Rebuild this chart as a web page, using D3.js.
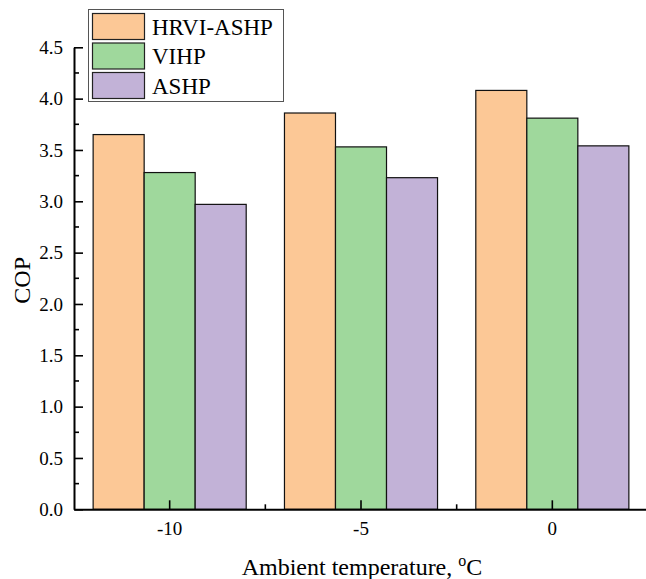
<!DOCTYPE html>
<html><head><meta charset="utf-8">
<script src="https://cdn.jsdelivr.net/npm/d3@7"></script>
<style>body{margin:0;background:#fff}svg{display:block}text{font-family:"Liberation Serif","Times New Roman",serif;fill:#000}</style>
</head><body>
<svg id="c" width="646" height="579"></svg>
<script>
const categories = ["-10", "-5", "0"];
const seriesNames = ["HRVI-ASHP", "VIHP", "ASHP"];
const hrviAshp = [3.65, 3.86, 4.08];
const vihp = [3.28, 3.53, 3.81];
const ashp = [2.97, 3.23, 3.54];
const yTicks = [0.0, 0.5, 1.0, 1.5, 2.0, 2.5, 3.0, 3.5, 4.0, 4.5];
const colors = ["#fcc896", "#9fd89c", "#c2b2d7"];

const series = [hrviAshp, vihp, ashp];
const svg = d3.select("#c");
const L = 74, R = 648, T = 47.3, B = 509.3;

const x = d3.scaleBand().domain(categories).range([L, R]).paddingInner(0).paddingOuter(0);
const xs = d3.scaleBand().domain(seriesNames).range([0, x.bandwidth()]).paddingInner(0).paddingOuter(0.375);
const y = d3.scaleLinear().domain([0, 4.5]).range([B, T]);

// bars
categories.forEach((c, i) => {
  seriesNames.forEach((s, j) => {
    svg.append("rect")
      .attr("x", x(c) + xs(s))
      .attr("y", y(series[j][i]))
      .attr("width", xs.bandwidth())
      .attr("height", B - y(series[j][i]))
      .attr("fill", colors[j])
      .attr("stroke", "#111")
      .attr("stroke-width", 1.2);
  });
});

// y axis
const yAxis = d3.axisLeft(y).tickValues(yTicks).tickFormat(d3.format(".1f")).tickSizeInner(-9).tickSizeOuter(0).tickPadding(11);
const gy = svg.append("g").attr("transform", `translate(${L},0)`).call(yAxis);
gy.select(".domain").attr("stroke", "#000").attr("stroke-width", 2);
gy.selectAll(".tick line").attr("stroke", "#000").attr("stroke-width", 1.6);
gy.selectAll(".tick text").style("font-size", "19px");
// minor y ticks
const minorY = d3.range(0, 9).map(i => yTicks[i] + 0.25);
svg.append("g").selectAll("line").data(minorY).join("line")
  .attr("x1", L).attr("x2", L + 5).attr("y1", d => y(d)).attr("y2", d => y(d))
  .attr("stroke", "#000").attr("stroke-width", 1.6);

// x axis
const xAxis = d3.axisBottom(x).tickSizeInner(-9).tickSizeOuter(0).tickPadding(12);
const gx = svg.append("g").attr("transform", `translate(0,${B})`).call(xAxis);
gx.select(".domain").attr("stroke", "#000").attr("stroke-width", 2);
gx.selectAll(".tick line").attr("stroke", "#000").attr("stroke-width", 1.6);
gx.selectAll(".tick text").style("font-size", "19px");
// minor x ticks between groups
svg.append("g").selectAll("line").data(categories.slice(1)).join("line")
  .attr("x1", d => x(d)).attr("x2", d => x(d)).attr("y1", B).attr("y2", B - 5)
  .attr("stroke", "#000").attr("stroke-width", 1.6);

// axis titles
svg.append("text").attr("transform", `translate(30,${(T + B) / 2 + 2}) rotate(-90)`)
  .attr("text-anchor", "middle").style("font-size", "24px").text("COP");
const xt = svg.append("text").attr("x", 362).attr("y", 575).attr("text-anchor", "middle").style("font-size", "24px");
xt.append("tspan").text("Ambient temperature, ");
xt.append("tspan").attr("dy", -9).style("font-size", "16px").text("o");
xt.append("tspan").attr("dy", 9).text("C");

// legend
const lg = svg.append("g");
lg.append("rect").attr("x", 88.5).attr("y", 9.5).attr("width", 195).attr("height", 92)
  .attr("fill", "#fff").attr("stroke", "#555").attr("stroke-width", 1);
seriesNames.forEach((s, j) => {
  lg.append("rect").attr("x", 92.5).attr("y", 13.5 + j * 29.5).attr("width", 52).attr("height", 26)
    .attr("fill", colors[j]).attr("stroke", "#222").attr("stroke-width", 1.2);
  lg.append("text").attr("x", 152).attr("y", 34.5 + j * 29.5).style("font-size", "23px").text(s);
});
</script>
</body></html>
